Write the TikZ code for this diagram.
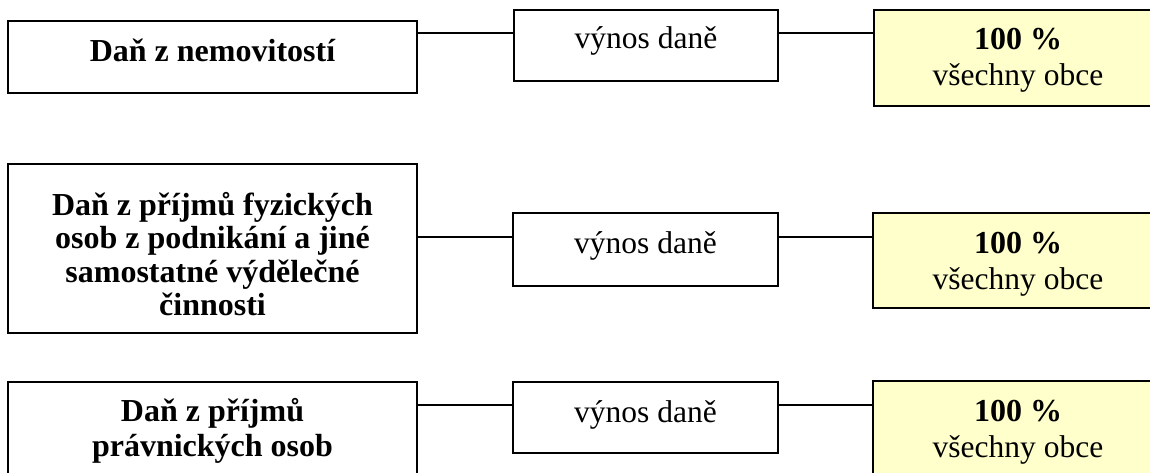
\documentclass[tikz,border=0pt]{standalone}
\usepackage{fontspec}
\setmainfont{Liberation Serif}
\begin{document}
\begin{tikzpicture}[x=1pt,y=-1pt,
  box/.style={draw=black,line width=1.6pt,rectangle,inner sep=0pt,outer sep=0pt,fill=white},
  sharebox/.style={box,fill=shareyellow},
  link/.style={draw=black,line width=1.3pt},
  head/.style={font=\fontsize{32}{36}\selectfont\bfseries,inner sep=0pt,anchor=base},
  plain/.style={font=\fontsize{31.5}{36}\selectfont,inner sep=0pt,anchor=base}]
\definecolor{shareyellow}{HTML}{FFFFCC}
\useasboundingbox (0,0) rectangle (1150,473);
\begin{scope}
\clip (0,0) rectangle (1150,473);

% row 1: property tax
\node[box,minimum width=409pt,minimum height=72pt] (l1) at (212.5,57) {};
\node[box,minimum width=264pt,minimum height=71pt] (m1) at (646,45.5) {};
\node[sharebox,minimum width=288pt,minimum height=96pt] (r1) at (1018,58) {};
\coordinate (c1) at (0,33);
\draw[link] (l1.east |- c1) -- (m1.west |- c1);
\draw[link] (m1.east |- c1) -- (r1.west |- c1);
\node[head] (t1) at (212.5,62) {Daň z nemovitostí};
\node[plain] (v1) at (646,49) {výnos daně};
\node[head] (p1) at (1018,50) {100 \%};
\node[plain] (o1) at (1018,86) {všechny obce};

% row 2: personal income tax from business
\node[box,minimum width=409pt,minimum height=169pt] (l2) at (212.5,248.5) {};
\node[box,minimum width=265pt,minimum height=73pt] (m2) at (645.5,249.5) {};
\node[sharebox,minimum width=289pt,minimum height=95pt] (r2) at (1017.5,260.5) {};
\coordinate (c2) at (0,237);
\draw[link] (l2.east |- c2) -- (m2.west |- c2);
\draw[link] (m2.east |- c2) -- (r2.west |- c2);
\node[head] (t2a) at (212.5,215) {Daň z příjmů fyzických};
\node[head] (t2b) at (212.5,248.5) {osob z podnikání a jiné};
\node[head] (t2c) at (212.5,282) {samostatné výdělečné};
\node[head] (t2d) at (212.5,315) {činnosti};
\node[plain] (v2) at (645.5,253) {výnos daně};
\node[head] (p2) at (1018,253) {100 \%};
\node[plain] (o2) at (1018,289) {všechny obce};

% row 3: corporate income tax
\node[box,minimum width=409pt,minimum height=108pt] (l3) at (212.5,436) {};
\node[box,minimum width=265pt,minimum height=71pt] (m3) at (645.5,417.5) {};
\node[sharebox,minimum width=289pt,minimum height=96pt] (r3) at (1017.5,429) {};
\coordinate (c3) at (0,405);
\draw[link] (l3.east |- c3) -- (m3.west |- c3);
\draw[link] (m3.east |- c3) -- (r3.west |- c3);
\node[head] (t3a) at (212.5,421) {Daň z příjmů};
\node[head] (t3b) at (212.5,456) {právnických osob};
\node[plain] (v3) at (645.5,422) {výnos daně};
\node[head] (p3) at (1018,421) {100 \%};
\node[plain] (o3) at (1018,457) {všechny obce};
\end{scope}
\end{tikzpicture}
\end{document}
